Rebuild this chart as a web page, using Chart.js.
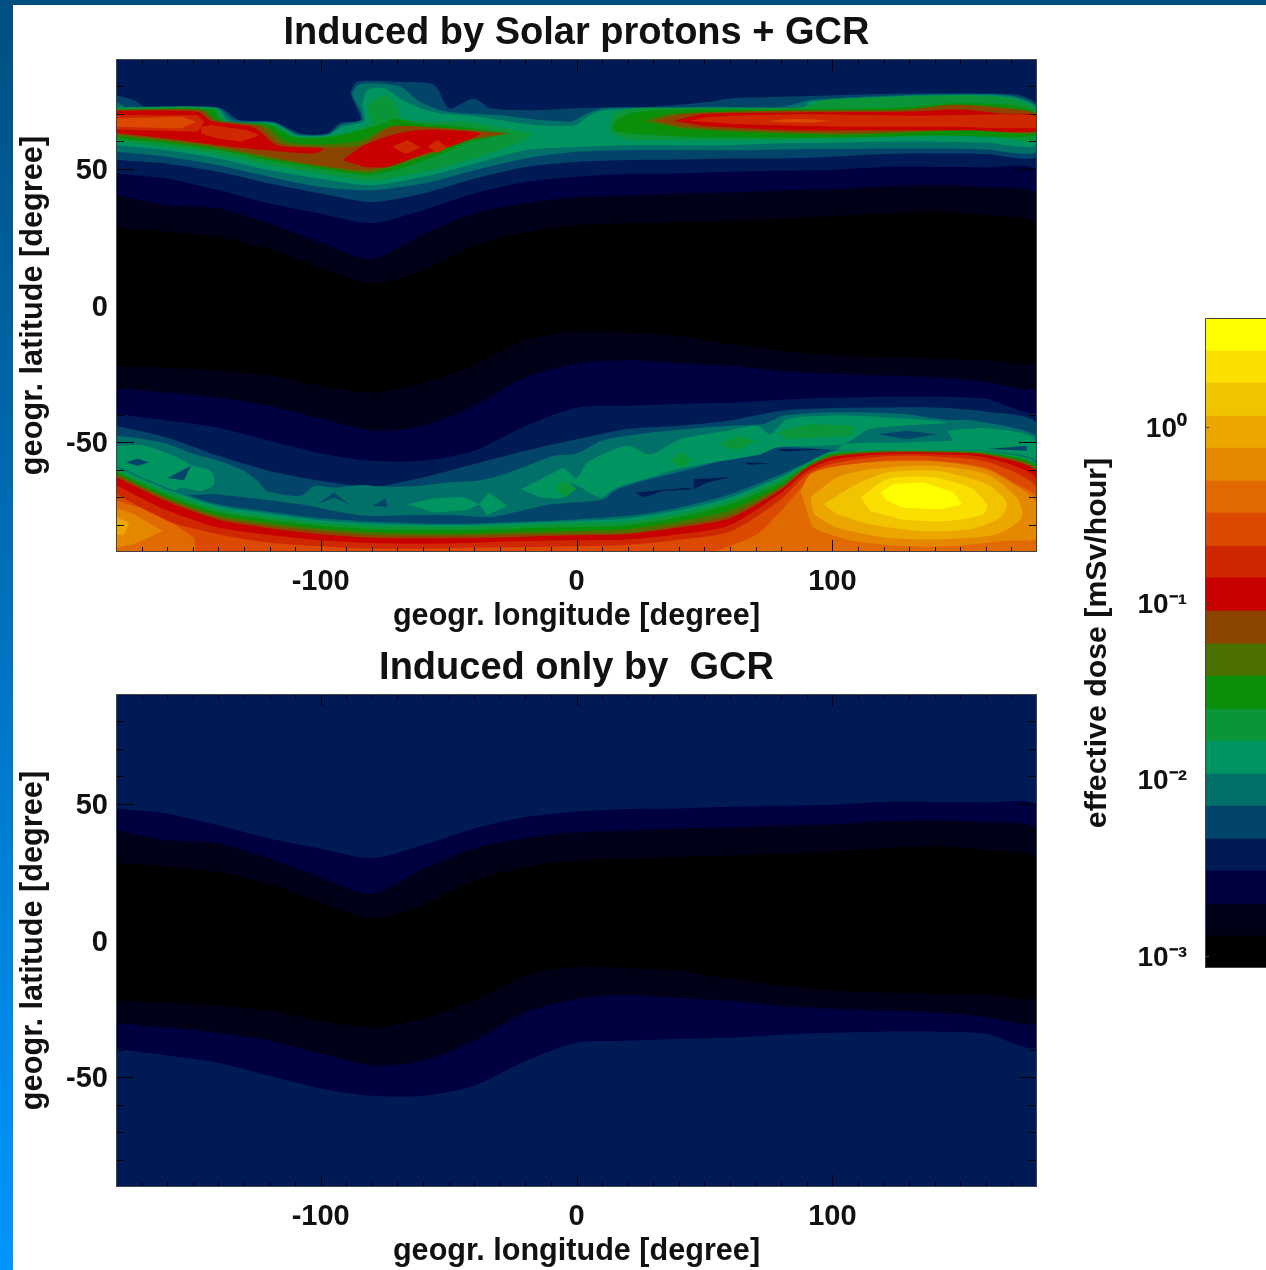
<!DOCTYPE html>
<html><head><meta charset="utf-8">
<script src="https://cdn.jsdelivr.net/npm/chart.js@4"></script>
<style>
html,body{margin:0;padding:0;background:#fff;width:1266px;height:1270px;overflow:hidden}
#strip{position:absolute;left:0;top:0;width:13px;height:1270px;background:linear-gradient(#004f80,#0096ff)}
#bar{position:absolute;left:0;top:0;width:1266px;height:5px;background:#004f80}
canvas{position:absolute;filter:blur(0.5px)}
</style></head><body>
<div id="strip"></div><div id="bar"></div>
<canvas id="c1" width="1060" height="635" style="left:0;top:0;width:1060px;height:635px"></canvas>
<canvas id="c2" width="1060" height="635" style="left:0;top:635px;width:1060px;height:635px"></canvas>
<canvas id="c3" width="206" height="690" style="left:1060px;top:300px;width:206px;height:690px"></canvas>
<script>
const titleTop='Induced by Solar protons + GCR', titleBottom='Induced only by  GCR';
const xTitle='geogr. longitude [degree]', yTitle='geogr. latitude [degree]', cbTitle='effective dose [mSv/hour]';
const cbTicks=[0.001,0.01,0.1,1], cbTickLabels=['10\u207B\u00B3','10\u207B\u00B2','10\u207B\u00B9','10\u2070'];
const levelColors=['#000000','#000018','#000040','#001a55','#03456a','#007068','#009560','#0a9538','#0a8f0a','#4b7000','#8c4500','#c80000','#cf2800','#db4a00','#e06a00','#e58800','#eba600','#f2c400','#fbdf00','#ffff00'];
const levelEdges=[0.000854,0.001297,0.00197,0.00303,0.0046,0.00708,0.01076,0.01656,0.02513,0.0387,0.0588,0.0904,0.1393,0.2113,0.325,0.494,0.76,1.154,1.776,2.7,4.15];
const lonGrid=[-180,-160,-140,-120,-100,-80,-60,-40,-20,0,20,40,60,80,100,120,140,160,180];
const southLon=[-180,-160,-140,-120,-100,-80,-60,-40,-20,0,20,40,60,80,90,100,120,140,160,180];
const frame=[[-180,90],[180,90],[180,-90],[-180,-90]];
/* GCR background contours, shared by both panels */
const n2=[48.2,46.3,42.1,37.2,33.5,30.1,34.8,40.9,45.1,47,48,48.2,48.8,49.2,49.6,50.6,50.6,50.4,48.8];
const n1=[40.2,36.6,35.5,30,23,17,26,33.7,37.3,39.5,40.2,41,41.3,42,42.4,43.5,43.9,43.2,40.2];
const n0=[28.5,27,25,20.5,14,8,13,22,26.7,29.3,30,30.4,31,31.8,32.6,33.7,34.4,33,29.3];
const s0=[-22,-22.7,-23.8,-25.6,-29.3,-31.8,-28.5,-22,-12.8,-9.5,-10,-11,-14,-16.5,-18.3,-19,-19.4,-19.8,-20];
const s1=[-30,-31.8,-33.7,-36.6,-41.3,-45.7,-44,-36.6,-26.3,-21.2,-20,-21,-22,-23.8,-24.9,-25.6,-26.3,-27.8,-29.3];
const s2=[-39.5,-42,-44.6,-49.4,-54,-56.7,-56.7,-53,-44,-37.3,-36.6,-35.9,-35.5,-34.4,-33.7,-33.3,-33.3,-34,-38.4];
/* north auroral band: lower edges on lonGrid, upper edges as outlines */
const north4Low=[53.1,51.8,48.8,44.5,40.9,37.8,40.9,46.3,50.6,52.4,53.1,53.3,53.7,53.7,54.3,55.3,55.5,55.3,54.3];
const north5Low=[56.1,54.3,51.2,47,43.3,42.1,44.5,49.4,53.7,56.1,56.7,56.7,56.7,57,57.1,57.3,57.3,57,56.1];
const north6Low=[58.5,56.7,53.7,49.4,46.3,43.9,47,51.8,56.7,57.9,58.5,58.5,58.5,59.2,59.4,59.8,59.8,59.4,58.5];
const north4Top=[[-180,76.8],[-172.9,75],[-169,72.6],[-139,72],[-131.9,67.7],[-118.2,67.1],[-107.8,62.8],[-97.4,62.8],[-92.2,66.7],[-84.3,67.7],[-88.2,77.4],[-85.6,81.7],[-71.3,81.7],[-55.7,80.5],[-49.8,72],[-40.1,75.6],[-33.6,72],[-16.6,71.3],[0,72],[10.7,72.3],[30.2,72.6],[52.4,74.4],[60.2,75.6],[81,76.2],[127.9,77.4],[160.4,77.4],[173.4,76.8],[180,73.2]];
const north5Top=[[-180,74.4],[-176.1,72.6],[-140.3,72.3],[-133.8,67.7],[-118.2,66.8],[-109.1,62.5],[-97.4,62.5],[-92.2,65.9],[-83.7,68],[-85.6,73.2],[-87.6,77.4],[-85,80.7],[-77.8,81.1],[-68.7,79.9],[-62.2,75],[-57,72.6],[-50.5,70.7],[-42.7,70.1],[-29.6,69.5],[-14,67.7],[-3.6,67.1],[-2.3,67],[4.2,70.1],[10.7,72],[36.7,72.3],[52.4,72.6],[81,72.6],[91.4,75],[127.9,76.8],[160.4,77.2],[172.1,76.2],[180,72.6]];
const north6Top=[[-180,72.3],[-140.3,72],[-135.8,67.1],[-118.2,66.5],[-109.1,62.2],[-97.4,62.2],[-91.5,65.3],[-83,67.4],[-83.7,73.2],[-81.7,78.7],[-75.2,79.3],[-68,75],[-60.9,72],[-53.1,70.1],[-42.7,69.5],[-29.6,67.7],[-16.6,65.9],[0,65.9],[4.2,68.9],[10.7,71.3],[52.4,72],[88.8,72.3],[91.4,74.4],[127.9,76.5],[160.4,76.8],[172.1,75.6],[180,72]];
const north7A=[[-180,72],[-141.6,72],[-136.4,67.1],[-119.5,66.2],[-109.7,61.8],[-97.4,61.8],[-86.9,64],[-80.4,67.1],[-81.7,72.6],[-75.2,76.8],[-70,72.6],[-68.7,68.3],[-55.7,67.1],[-42.7,67.1],[-24.4,64],[-17.9,62.8],[-19.9,60.6],[-39.8,53.7],[-59.7,48.8],[-79.7,45.7],[-100,48.2],[-119.9,51.2],[-139.8,55.3],[-159.7,57.9],[-180,59.8]];
const north7B=[[13.3,66.5],[14.6,70.1],[22.4,72],[88.8,72.3],[96.6,75],[127.9,76.2],[159.1,76.6],[172.1,75],[180,71.3],[180,60.4],[159.8,61.8],[139.8,61.8],[120,61.3],[100,61],[80,60.6],[60.2,60.4],[39.8,60.4],[20,60.6],[13.3,63.4]];
const north8A=[[-180,71.6],[-142.9,71.6],[-137.7,66.7],[-120.8,66.2],[-110.4,61.4],[-97.4,61.4],[-84.3,64],[-75.2,66.5],[-71.3,68.3],[-62.2,66.5],[-45.3,65.3],[-29.6,62.8],[-42.7,59.2],[-55.7,54.3],[-68.7,50],[-81.7,47.6],[-101.3,50],[-120.8,53.1],[-139.8,56.7],[-159.7,59.2],[-180,61]];
const north8B=[[14.6,67.1],[21.1,70.1],[31.5,71.3],[88.8,71.7],[127.9,72.3],[147.4,73.8],[169.5,73.2],[180,70.1],[180,62.2],[140.9,62.2],[101.8,61.4],[49.7,61.4],[21.1,62.8],[14,64]];
const north9A=[[-180,71.5],[-145.5,71.3],[-140.3,67.4],[-122.1,65.7],[-113,59.8],[-98.7,58.9],[-84.3,60.1],[-73.9,65],[-55.7,65],[-33.6,63.4],[-26.4,62.8],[-42.7,60.1],[-55.7,55.5],[-68.7,51.6],[-81.7,48.4],[-101.3,50.9],[-120.8,53.7],[-139.8,57.1],[-159.7,59.8],[-180,61.8]];
const north9B=[[26.3,67.4],[36.7,69.9],[75.8,71.1],[127.9,71.6],[147.4,73.4],[166.9,72.3],[180,69.9],[180,63],[153.9,64],[127.9,63],[101.8,62.3],[62.8,63.4],[40.6,64.6]];
const north10A=[[-180,71.4],[-146.8,71.3],[-141.6,67.7],[-123.4,65.3],[-115.6,59.2],[-100,57.9],[-84.3,58.5],[-72.6,65.3],[-55.7,65],[-34.9,63.4],[-28.4,62.8],[-42.7,60.4],[-55.7,56.1],[-68.7,52.4],[-81.7,49.4],[-101.3,51.2],[-120.8,54.5],[-139.8,58],[-159.7,60.4],[-180,62.6]];
const north10B=[[30.2,67.4],[40.6,69.9],[75.8,71],[127.9,71.3],[147.4,73.2],[166.9,72],[180,69.8],[180,63.4],[153.9,64.4],[127.9,63.4],[101.8,62.8],[62.8,64],[40.6,65.3]];
const north11A=[[-180,71.1],[-148.1,70.7],[-142.9,67.4],[-126,65],[-116.9,58.5],[-98.7,57.3],[-102.6,55.5],[-120.8,56.7],[-140.3,58.5],[-159.9,61],[-180,63]];
const north11B=[[-91.5,53.1],[-83,58.5],[-72.6,62.2],[-62.2,64],[-50.5,64],[-37.5,62.8],[-47.9,58.5],[-60.9,54.9],[-73.9,50.6],[-83,50.6]];
const north11C=[[38,67.4],[49.7,69.9],[88.8,70.5],[127.9,70.7],[150,71.6],[166.9,70.1],[180,69.5],[180,63.7],[153.9,64],[114.8,64],[82.3,64],[49.7,65.5]];
const north12A=[[-180,69.5],[-148.1,69.5],[-145.5,67.1],[-148.1,63.4],[-180,64.3]];
const north12B=[[-146.8,65.3],[-142.9,65.9],[-128.6,64],[-124,62.2],[-131.2,59.8],[-140.3,61],[-146.8,62.8]];
const north12C=[[-72,58],[-66.1,60.4],[-60.9,57.7],[-66.8,55.3]];
const north12D=[[-58.3,58],[-54.4,60.4],[-50.5,57.7],[-54.4,55.7]];
const north12E=[[44.5,67.4],[52.4,68.9],[88.8,69.8],[127.9,69.3],[147.4,69.5],[180,69.3],[180,65],[147.4,65.3],[101.8,65.3],[62.8,66.2]];
const north13A=[[-180,68.3],[-154.6,68.9],[-148.8,67.1],[-154.6,64.6],[-180,65.3]];
const north13B=[[74.5,67.4],[81,68],[91.4,68],[100.5,67.4],[91.4,66.8],[81,66.8]];
/* south band */
const south4Edge=[-43.9,-48.2,-54.9,-60.4,-64,-66.2,-62.8,-57.9,-53,-48.8,-45.1,-43.9,-42,-38.4,-37.4,-37.2,-37.2,-38.7,-43.3];
const south5Lobes=[[-180,-47.6],[-169,-48.8],[-159.9,-50.6],[-149.4,-54.3],[-140.3,-56.5],[-129.9,-60.4],[-124.7,-64],[-120.8,-67.7],[-107.8,-69.5],[-102.6,-65.9],[-94.7,-66.5],[-84.3,-65.5],[-73.9,-66.2],[-62.2,-65.9],[-50.5,-64.6],[-38.8,-64],[-28.4,-61.6],[-19.2,-58.5],[-8.8,-54.9],[0,-54],[10.7,-49.1],[30.2,-46.3],[43.2,-45.1],[60.2,-43.9],[73.2,-43.3],[81,-40.2],[101.8,-39],[127.9,-39.6],[144.8,-41.8],[153.9,-41.8],[180,-47.6],[180,-58.5],[166.9,-56.7],[160.4,-54.3],[101.8,-54.3],[100.5,-52.8],[78.4,-51.8],[71.9,-54.3],[60.2,-55.5],[49.7,-58.5],[36.7,-61.6],[23.7,-64.6],[14.6,-67.7],[10.7,-70.7],[-2.3,-72],[-10.1,-72.6],[-21.8,-75],[-33.6,-77.2],[-49.2,-76.5],[-62.2,-76.5],[-81.7,-76.8],[-94.7,-75],[-107.8,-72.6],[-123.4,-70.7],[-141.6,-68.9],[-153.4,-68.9],[-180,-60.4]];
const south6A=[[-180,-51.2],[-169,-51.2],[-157.2,-54.9],[-150.7,-58.2],[-142.9,-60.4],[-141.6,-65.2],[-146.8,-67.7],[-154.6,-66.5],[-159.9,-68.3],[-180,-59.8]];
const south6B=[[-66.1,-72.6],[-55.7,-70.4],[-44,-69.9],[-38.1,-72.6],[-42.7,-74.8],[-55.7,-75.6]];
const south6C=[[-38.1,-72.6],[-34.2,-68.3],[-27,-73.2],[-34.9,-76.5]];
const south6D=[[-21.8,-67.1],[-10.1,-61.6],[-4.9,-59.4],[0,-63],[4.2,-57.3],[19.8,-51.2],[28.9,-54.3],[40.6,-48.8],[58.9,-45.7],[70.6,-43.9],[75.8,-47],[82.3,-41.5],[105.7,-40.2],[144.8,-42.7],[114.8,-45.1],[104.4,-50.6],[78.4,-51.8],[71.9,-54.3],[49.7,-57.9],[36.7,-60.4],[28.9,-62.8],[19.8,-65.2],[14.6,-67.1],[9.4,-70.1],[-2.3,-65],[-4.9,-70.1],[-14,-70.1]];
const south6E=[[144.8,-45.7],[160.4,-44.8],[178.6,-48.2],[180,-58.5],[166.9,-56.1],[160.4,-53.7],[101.8,-53.7],[104.4,-50.6],[127.9,-50],[147.4,-49.4]];
const south7A=[[-8.8,-66.5],[-4.3,-63.8],[0,-67],[-4.3,-69.9]];
const south7B=[[36.7,-56.7],[41.3,-53.7],[45.2,-56.7],[41.3,-59.4]];
const south7C=[[56.3,-50.6],[62.8,-47.6],[70,-49.4],[62.8,-53]];
const south7D=[[78.4,-46.3],[91.4,-43.3],[108.3,-43.9],[108.3,-47.6],[82.3,-48.8]];
const southHole4=[[[-176.1,-57.3],[-171.6,-55.9],[-167,-57.3],[-171.6,-58.5]],[[-159.9,-63],[-150.7,-58.5],[-153.4,-63.8]],[[-101.3,-72.6],[-94.7,-68.3],[-88.9,-72.6],[-94.7,-70.1]],[[-79.8,-73.2],[-74.6,-70.4],[-73.9,-73.5]],[[117.5,-47],[129.2,-45.7],[140.9,-47],[129.2,-48.8]],[[160.4,-52.4],[176,-51.2],[176,-53]]];
const southHole3=[[[23,-68.3],[43.2,-66.5],[45.8,-67.1],[33.6,-67.7],[26.3,-70.1]],[[45.8,-63.4],[60.2,-62.6],[51.1,-64.6],[45.8,-67.1]],[[65.4,-57.3],[75.8,-57.6],[68,-58.2]],[[78.4,-52.4],[99.2,-52.4],[81,-53.3]]];
const ridge5=[-58.5,-66.5,-72.6,-75.3,-77.7,-78.9,-79.6,-79.6,-78.9,-78.1,-76.8,-73.8,-68.9,-61.6,-57.3,-53,-52.8,-52.8,-53,-57.3];
const ridge6=[-59.1,-67.2,-73.3,-76,-78.4,-79.6,-80.1,-80.1,-79.4,-78.7,-77.7,-74.8,-70.1,-62.6,-57.7,-53.4,-52.9,-52.9,-53.3,-57.9];
const ridge7=[-59.9,-68,-74.3,-77,-79.3,-80.4,-80.7,-80.7,-80.1,-79.5,-78.9,-76,-71.3,-63.5,-58,-53.8,-53,-53,-53.5,-58.5];
const ridge8=[-60.6,-69.1,-75.5,-78.2,-80.4,-81.6,-82.1,-82,-81.3,-80.9,-80.2,-77.4,-72.6,-64.8,-58.5,-54.3,-53.2,-53.2,-53.8,-59.1];
const ridge9=[-61.3,-70.1,-76.5,-79.4,-81.5,-82.8,-83.3,-83.2,-82.6,-82.3,-81.6,-78.9,-74.8,-65.9,-58.9,-54.6,-53.3,-53.3,-54,-59.8];
const ridge10=[-61.8,-70.7,-77.4,-80.4,-82.3,-83.8,-84,-83.9,-83.5,-83.3,-83,-80.2,-76.5,-66.5,-59.1,-55,-53.4,-53.4,-54.3,-60.4];
const ridge11=[-62.6,-71.6,-78.2,-81.3,-83.5,-84.8,-85,-84.9,-84.4,-83.9,-83.5,-81.1,-77.7,-67.2,-59.5,-55.4,-53.7,-53.7,-54.6,-61];
const ridge12=[-65.5,-74.8,-81.1,-83.8,-85.7,-86.7,-87,-86.6,-86,-85.7,-85.4,-83.5,-80.2,-68.3,-60.4,-56.3,-54.3,-54.3,-55.5,-63.4];
const ridge13=[-68.7,-78.7,-83.5,-86.6,-87.9,-88.7,-88.8,-88.4,-88.2,-87.9,-87.4,-85.5,-82.6,-70.7,-61.6,-57.7,-55.1,-55.1,-57,-66.5];
const left14=[[-180,-71.3],[-170.3,-73.8],[-157.2,-79.9],[-149.4,-84.8],[-148.8,-90],[-180,-90]];
const left15=[[-180,-73.8],[-172.9,-76.2],[-161.8,-82.3],[-172.9,-87.2],[-180,-88.4]];
const left16=[[-180,-77.2],[-174.8,-79.3],[-176.8,-83.5],[-180,-83.8]];
const dome14=[[53.7,-90],[70.6,-83.5],[81,-73.8],[88.8,-65.9],[99.2,-59.8],[120,-56.7],[139.8,-56.7],[159.8,-59.2],[170.8,-64.6],[180,-70.1],[180,-90]];
const dome15=[[87.5,-67.7],[91.4,-61.6],[100.5,-58.9],[120,-57],[140.9,-57],[160.4,-60],[173.4,-66.7],[180,-72],[180,-84.8],[166.9,-86],[147.4,-87.8],[127.9,-87.8],[108.3,-86],[92.7,-81.1],[90.1,-75]];
const dome16=[[91.4,-70.1],[101.8,-62.8],[114.8,-59.8],[138.3,-58.5],[160.4,-61.6],[172.1,-70.1],[174.1,-77.4],[164.3,-83.5],[140.9,-85.4],[121.4,-84.8],[101.8,-81.1],[92.7,-76.2]];
const dome17=[[96.6,-72.6],[109.6,-65.2],[121.4,-61],[140.9,-60.4],[160.4,-65.2],[168.2,-72],[165.6,-77.4],[153.9,-81.7],[134.4,-82.3],[114.8,-79.9],[101.8,-76.2]];
const dome18=[[111,-70.1],[121.4,-63.4],[138.3,-62.6],[153.9,-66.5],[160.4,-72.6],[159.1,-76.2],[144.8,-78.7],[127.9,-78.1],[114.8,-75]];
const dome19=[[118.8,-68.3],[124,-65.2],[135.7,-64.6],[147.4,-68.3],[150.7,-72.6],[142.2,-74.4],[127.9,-73.8],[121.4,-71.3]];

const zip=(lons,lats)=>lons.map((x,i)=>[x,lats[i]]);
const between=(a,b)=>zip(lonGrid,a).concat(zip(lonGrid,b).reverse());
const topLow=(top,low)=>top.concat(zip(lonGrid,low).reverse());
const toBottom=(lons,lats)=>zip(lons,lats).concat([[180,-90],[-180,-90]]);
const gcrRegions=[[3,frame],[2,between(n2,s2)],[1,between(n1,s1)],[0,between(n0,s0)]];
const fullRegions=gcrRegions.concat([
 [4,toBottom(lonGrid,south4Edge)],[5,south5Lobes],[6,south6A],[6,south6B],[6,south6C],[6,south6D],[6,south6E],
 [7,south7A],[7,south7B],[7,south7C],[7,south7D],
 ...southHole4.map(p=>[4,p]),...southHole3.map(p=>[3,p]),
 [5,toBottom(southLon,ridge5)],[6,toBottom(southLon,ridge6)],[7,toBottom(southLon,ridge7)],[8,toBottom(southLon,ridge8)],
 [9,toBottom(southLon,ridge9)],[10,toBottom(southLon,ridge10)],[11,toBottom(southLon,ridge11)],[12,toBottom(southLon,ridge12)],[13,toBottom(southLon,ridge13)],
 [14,left14],[15,left15],[16,left16],[14,dome14],[15,dome15],[16,dome16],[17,dome17],[18,dome18],[19,dome19],
 [4,topLow(north4Top,north4Low)],[5,topLow(north5Top,north5Low)],[6,topLow(north6Top,north6Low)],
 [7,north7A],[7,north7B],[8,north8A],[8,north8B],[9,north9A],[9,north9B],[10,north10A],[10,north10B],
 [11,north11A],[11,north11B],[11,north11C],[12,north12A],[12,north12B],[12,north12C],[12,north12D],[12,north12E],[13,north13A],[13,north13B]
]);

const FONT='"Liberation Sans", Arial, sans-serif', INK='#111';
const frameTicks={id:'frameTicks',afterDatasetsDraw(chart){
  const c=chart.ctx,a=chart.chartArea,xs=chart.scales.x,ys=chart.scales.y;
  c.save();c.strokeStyle='#000';c.lineWidth=1;c.beginPath();
  xs.ticks.filter(t=>Math.abs(t.value)<180).forEach(t=>{const p=Math.round(xs.getPixelForValue(t.value))+.5,l=t.value%100===0?12:5;
    c.moveTo(p,a.bottom);c.lineTo(p,a.bottom-l);c.moveTo(p,a.top);c.lineTo(p,a.top+l);});
  ys.ticks.filter(t=>Math.abs(t.value)<90).forEach(t=>{const p=Math.round(ys.getPixelForValue(t.value))+.5,l=t.value%50===0?18:8;
    c.moveTo(a.left,p);c.lineTo(a.left+l,p);c.moveTo(a.right,p);c.lineTo(a.right-l,p);});
  c.stroke();c.strokeStyle='#444';c.strokeRect(a.left+.5,a.top+.5,a.width-1,a.height-1);c.restore();
}};
const cbFrame={id:'cbFrame',afterDatasetsDraw(chart){
  const c=chart.ctx,a=chart.chartArea,ys=chart.scales.y;
  c.save();c.strokeStyle='#444';c.lineWidth=1;c.beginPath();
  c.moveTo(a.right,a.top+.5);c.lineTo(a.left+.5,a.top+.5);c.lineTo(a.left+.5,a.bottom-.5);c.lineTo(a.right,a.bottom-.5);
  cbTicks.forEach(v=>{const p=Math.round(ys.getPixelForValue(v))+.5;c.moveTo(a.left,p);c.lineTo(a.left+4,p);});
  c.stroke();c.restore();
}};
function contour(id,title,regions){
  const datasets=regions.map(([lvl,pairs])=>({data:pairs.map(([x,y])=>({x,y})),fill:'shape',backgroundColor:levelColors[lvl],borderWidth:0,pointRadius:0,tension:pairs.length>8?0.25:0,showLine:true})).reverse();
  new Chart(document.getElementById(id),{type:'line',data:{datasets},plugins:[frameTicks],options:{
    responsive:false,animation:false,events:[],
    layout:{padding:{left:13,right:23,top:0,bottom:0}},
    plugins:{legend:{display:false},tooltip:{enabled:false},
      title:{display:true,text:title,fullSize:false,color:INK,font:{family:FONT,size:38,weight:'bold',lineHeight:1},padding:{top:15,bottom:6}}},
    scales:{
      x:{type:'linear',min:-180,max:180,afterFit:s=>{s.height=83},grid:{display:false},border:{display:false},
        ticks:{stepSize:10,autoSkip:false,maxRotation:0,padding:5,color:INK,font:{family:FONT,size:29,weight:'bold'},
          callback:v=>(v%100===0&&Math.abs(v)<=100)?String(v):''},
        title:{display:true,text:xTitle,color:INK,font:{family:FONT,size:30.6,weight:'bold'},padding:{top:8,bottom:0}}},
      y:{type:'linear',min:-90,max:90,afterFit:s=>{s.width=103},grid:{display:false},border:{display:false},
        ticks:{stepSize:10,autoSkip:false,padding:0,labelOffset:2,color:INK,font:{family:FONT,size:29,weight:'bold'},
          callback:v=>(v%50===0)?String(v):''},
        title:{display:true,text:yTitle,color:INK,font:{family:FONT,size:30.7,weight:'bold'},padding:{top:2,bottom:0}}}
    }}});
}
contour('c1',titleTop,fullRegions);
contour('c2',titleBottom,gcrRegions);
new Chart(document.getElementById('c3'),{type:'bar',
  data:{labels:['dose'],datasets:levelColors.map((col,i)=>({data:[[levelEdges[i],levelEdges[i+1]]],backgroundColor:col,borderWidth:0,barPercentage:1,categoryPercentage:1,grouped:false}))},
  plugins:[cbFrame],
  options:{responsive:false,animation:false,events:[],
    layout:{padding:{left:13,right:0,top:18,bottom:22}},
    plugins:{legend:{display:false},tooltip:{enabled:false}},
    scales:{
      x:{display:false,grid:{display:false}},
      y:{type:'logarithmic',min:levelEdges[0],max:levelEdges[20],afterFit:s=>{s.width=132;s.paddingTop=0;s.paddingBottom=0},
        afterBuildTicks:s=>{s.ticks=cbTicks.map(v=>({value:v}))},
        grid:{display:false},border:{display:false},
        ticks:{autoSkip:false,padding:10,labelOffset:2,color:INK,font:{family:FONT,size:28,weight:'bold'},
          callback:v=>cbTickLabels[cbTicks.findIndex(t=>Math.abs(t-v)<v*0.01)]},
        title:{display:true,text:cbTitle,color:INK,font:{family:FONT,size:30.3,weight:'bold'},padding:{top:6,bottom:0}}}
    }}});
</script>
</body></html>
